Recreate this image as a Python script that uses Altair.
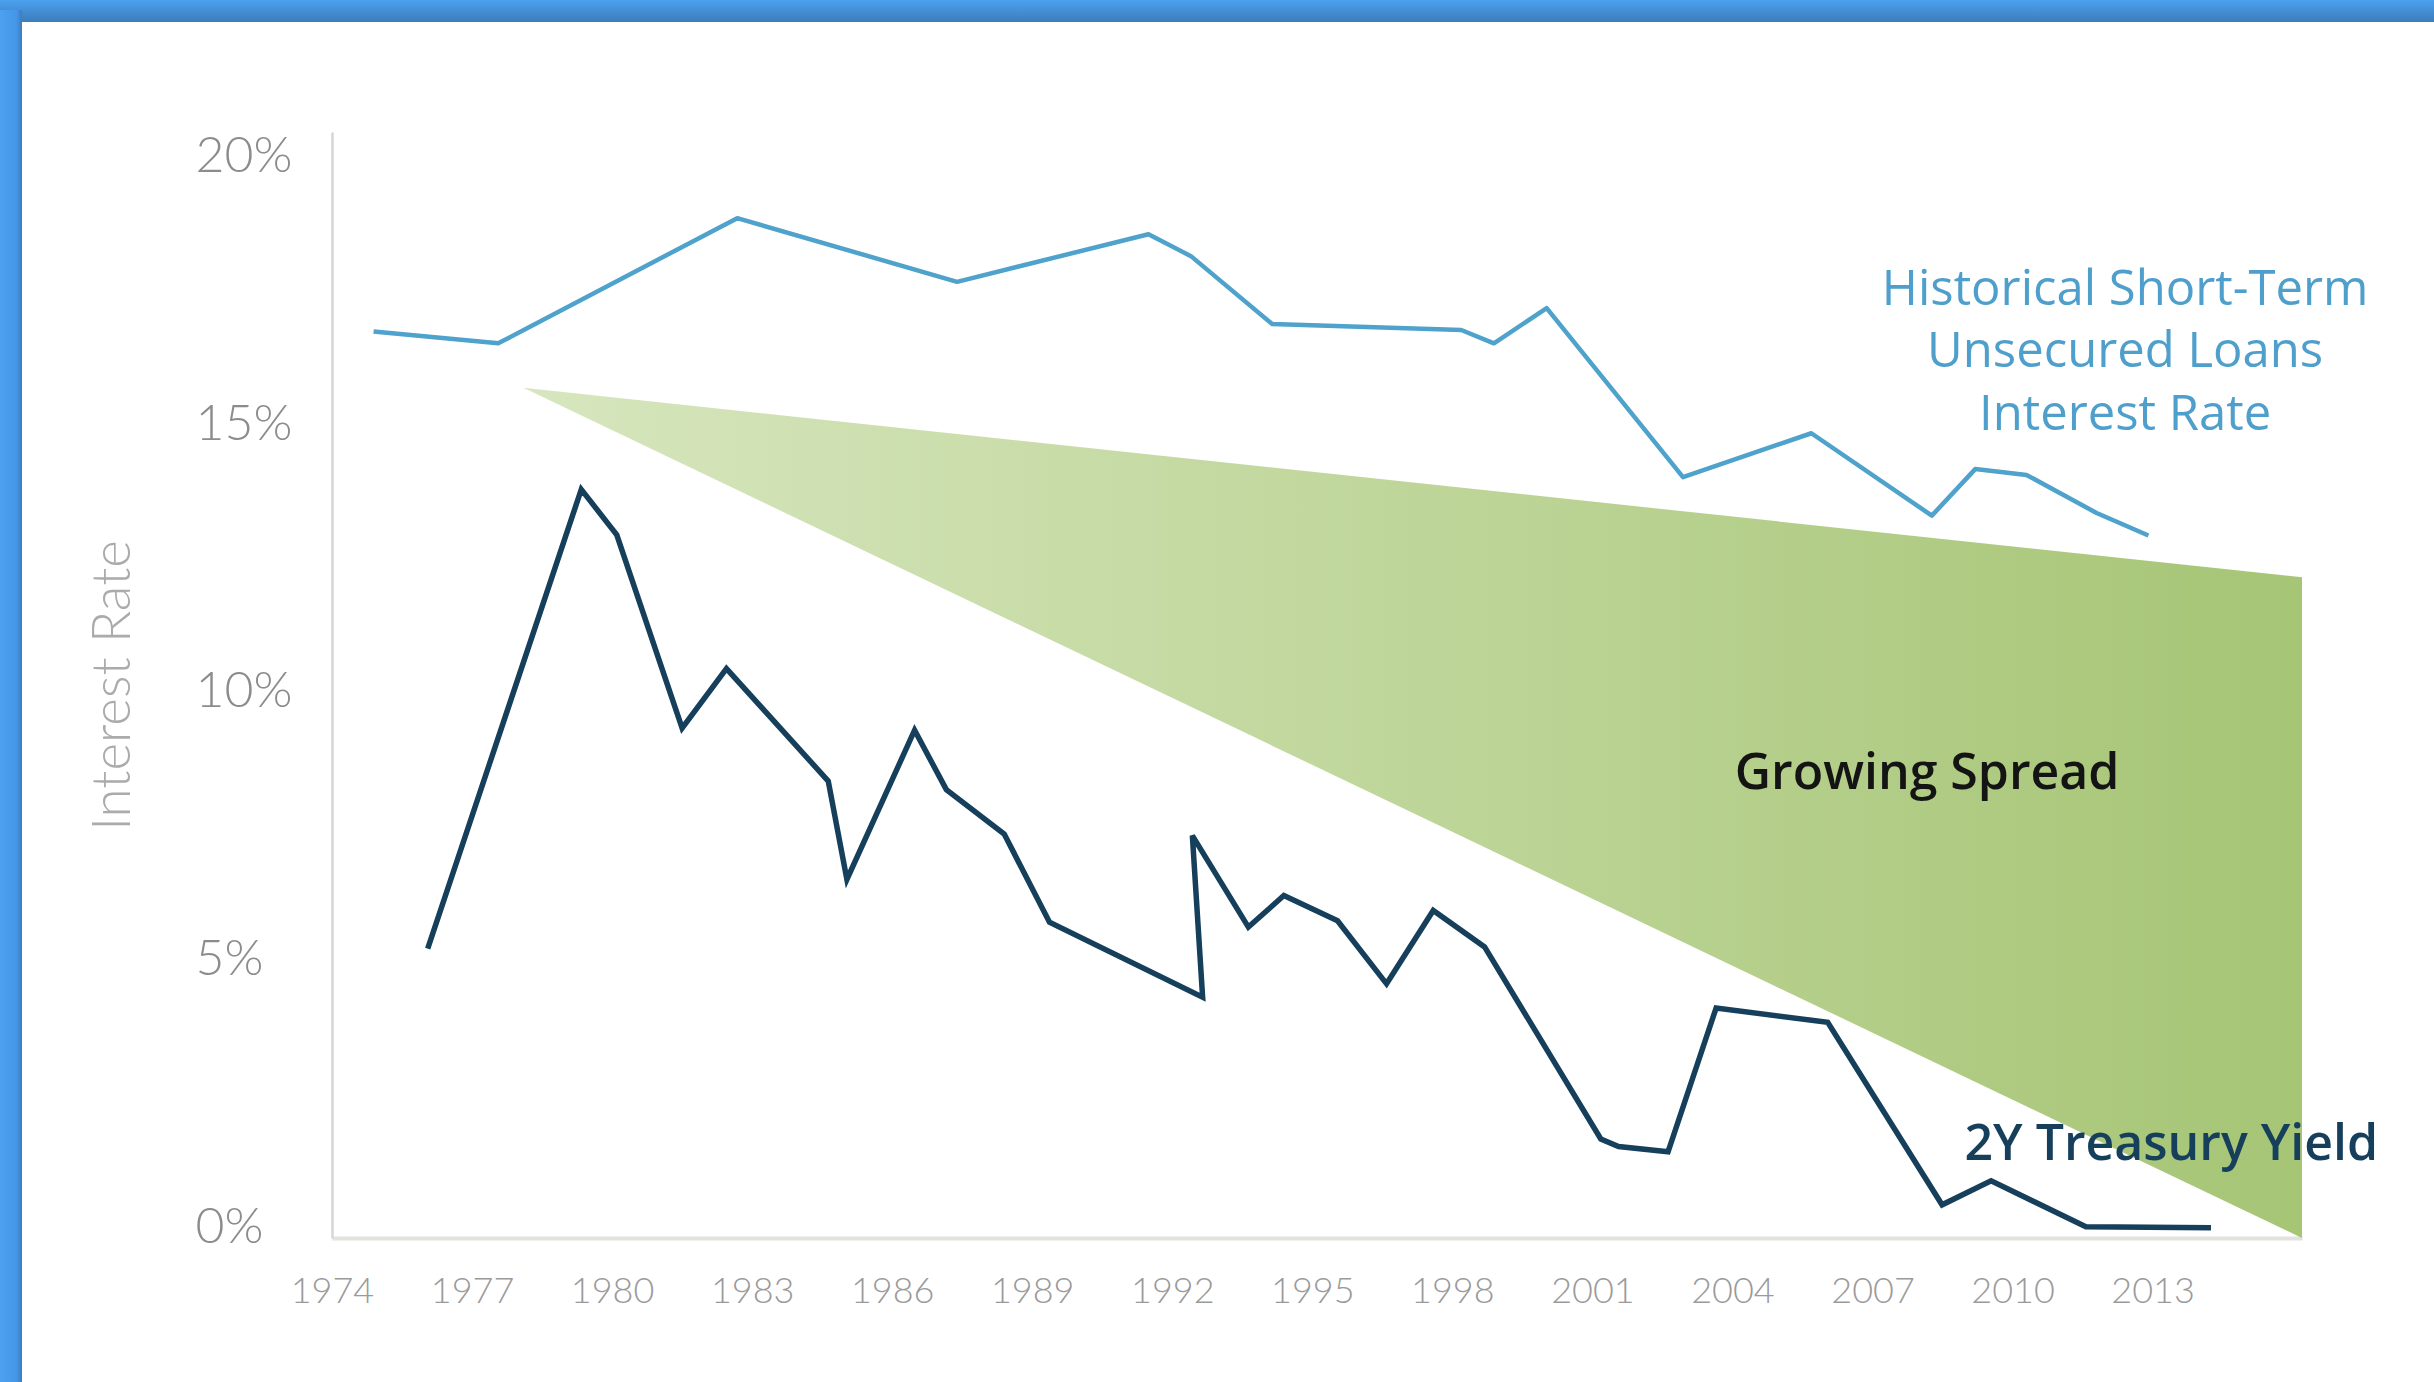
import altair as alt
import pandas as pd

# ---- data ----
loan_years = [1974.89, 1977.56, 1982.68, 1987.39, 1991.49, 1992.40, 1994.14, 1998.19,
              1998.89, 2000.02, 2002.94, 2005.69, 2008.27, 2009.20, 2010.30, 2011.80, 2012.91]
loan_rates = [16.94, 16.72, 19.06, 17.87, 18.76, 18.35, 17.08, 16.97,
              16.72, 17.38, 14.22, 15.04, 13.50, 14.37, 14.26, 13.55, 13.13]

treasury_years = [1976.05, 1979.34, 1980.10, 1981.50, 1982.45, 1984.63, 1985.03, 1986.48,
                  1987.16, 1988.40, 1989.37, 1992.65, 1992.43, 1993.63, 1994.39, 1995.54,
                  1996.59, 1997.59, 1998.69, 2001.18, 2001.56, 2002.62, 2003.65, 2006.04,
                  2008.49, 2009.54, 2011.57, 2014.25]
treasury_rates = [5.41, 13.99, 13.14, 9.53, 10.64, 8.54, 6.70, 9.49,
                  8.38, 7.55, 5.90, 4.50, 7.52, 5.81, 6.40, 5.93,
                  4.75, 6.12, 5.44, 1.85, 1.71, 1.61, 4.30, 4.03,
                  0.62, 1.07, 0.21, 0.19]

spread_years = [1978.1, 2016.2]
spread_upper = [15.89, 12.35]
spread_lower = [15.89, 0.0]

x_tick_years = list(range(1974, 2014, 3))
y_ticks = [0, 5, 10, 15, 20]

loan_label_lines = ["Historical Short-Term", "Unsecured Loans", "Interest Rate"]
loan_label_x = [2012.41, 2012.41, 2012.41]
loan_label_y = [17.43, 16.27, 15.11]

spread_label = ["Growing Spread"]
spread_label_x = [2008.17]
spread_label_y = [8.40]

treasury_label = ["2Y Treasury Yield"]
treasury_label_x = [2013.4]
treasury_label_y = [1.46]

# ---- tables ----
loan_df = pd.DataFrame({"year": loan_years, "rate": loan_rates,
                        "order": list(range(len(loan_years)))})
treasury_df = pd.DataFrame({"year": treasury_years, "rate": treasury_rates,
                            "order": list(range(len(treasury_years)))})
spread_df = pd.DataFrame({"year": spread_years, "rate": spread_upper, "lower": spread_lower})
loan_lbl_df = pd.DataFrame({"t": loan_label_lines, "year": loan_label_x, "rate": loan_label_y})
spread_lbl_df = pd.DataFrame({"t": spread_label, "year": spread_label_x, "rate": spread_label_y})
treas_lbl_df = pd.DataFrame({"t": treasury_label, "year": treasury_label_x, "rate": treasury_label_y})
frame_df = pd.DataFrame({"k": [0]})

W, H = 1970, 1106
PAD_L, PAD_T, PAD_R, PAD_B = 332, 132, 132, 144

x_scale = alt.Scale(domain=[1974, 2016.2], nice=False, zero=False)
y_scale = alt.Scale(domain=[0, 20.67], nice=False, zero=False)

LABEL_FONT = "Lato"

x_axis = alt.Axis(values=x_tick_years, format="d", title=None, grid=False,
                  ticks=False, tickSize=0, domainColor="#e2e2df", domainWidth=4,
                  labelColor="#9a9a9a", labelFont=LABEL_FONT, labelFontWeight=300,
                  labelFontSize=36, labelPadding=53, labelBaseline="middle",
                  labelFlush=False, labelOverlap=False)
y_axis = alt.Axis(values=y_ticks, labelExpr="datum.value + '%'", title="Interest Rate",
                  grid=False, ticks=False, tickSize=0, domainColor="#d6d6d2",
                  domainWidth=2.5, labelColor="#8c8c8c", labelFont=LABEL_FONT,
                  labelFontWeight=300, labelFontSize=50, labelAlign="left",
                  labelBaseline="middle", labelPadding=137, labelOffset=-11,
                  labelFlush=False, labelOverlap=False,
                  titleFont=LABEL_FONT, titleFontWeight=300, titleFontSize=53,
                  titleColor="#ababab", titleAngle=270, titleX=-219, titleY=H / 2,
                  titleAlign="center", titleBaseline="middle")

X = alt.X("year:Q", scale=x_scale, axis=x_axis)
Y = alt.Y("rate:Q", scale=y_scale, axis=y_axis)

frame_top = alt.Chart(frame_df).mark_rect(
    fill=alt.Gradient(gradient="linear",
                      stops=[alt.GradientStop(color="#4ca1f0", offset=0),
                             alt.GradientStop(color="#3c7cbb", offset=1)],
                      x1=0, x2=0, y1=0, y2=1)
).encode(x=alt.value(-PAD_L), x2=alt.value(2434 - PAD_L),
         y=alt.value(-PAD_T), y2=alt.value(-PAD_T + 22))

frame_left = alt.Chart(frame_df).mark_rect(
    fill=alt.Gradient(gradient="linear",
                      stops=[alt.GradientStop(color="#4ca1f0", offset=0),
                             alt.GradientStop(color="#4596e6", offset=0.75),
                             alt.GradientStop(color="#3c7cbb", offset=1)],
                      x1=0, x2=1, y1=0, y2=0)
).encode(x=alt.value(-PAD_L), x2=alt.value(-PAD_L + 22),
         y=alt.value(-PAD_T + 10), y2=alt.value(1382 - PAD_T))

spread = alt.Chart(spread_df).mark_area(
    color=alt.Gradient(gradient="linear",
                       stops=[alt.GradientStop(color="#d7e6be", offset=0),
                              alt.GradientStop(color="#a6c575", offset=1)],
                       x1=0, x2=1, y1=0, y2=0)
).encode(x=X, y=Y, y2="lower:Q")

loan_line = alt.Chart(loan_df).mark_line(color="#4ea2cb", strokeWidth=4.5,
                                         strokeJoin="round").encode(
    x=X, y=Y, order="order:Q")

treasury_line = alt.Chart(treasury_df).mark_line(color="#163f5b", strokeWidth=5.5,
                                                 strokeJoin="miter").encode(
    x=X, y=Y, order="order:Q")

loan_text = alt.Chart(loan_lbl_df).mark_text(
    font="Open Sans", fontSize=49, color="#4e9fcb", align="center", baseline="alphabetic"
).encode(x=X, y=Y, text="t:N")

spread_text = alt.Chart(spread_lbl_df).mark_text(
    font="Open Sans", fontSize=50, fontWeight=600, color="#141414", align="center",
    baseline="alphabetic"
).encode(x=X, y=Y, text="t:N")

treas_text = alt.Chart(treas_lbl_df).mark_text(
    font="Open Sans", fontSize=50, fontWeight=600, color="#163f5b", align="center",
    baseline="alphabetic"
).encode(x=X, y=Y, text="t:N")

chart = alt.layer(
    spread, loan_line, treasury_line, loan_text, spread_text, treas_text,
    frame_top, frame_left
).properties(
    width=W, height=H,
    autosize=alt.AutoSizeParams(type="none"),
    padding={"left": PAD_L, "top": PAD_T, "right": PAD_R, "bottom": PAD_B},
    background="white",
).configure_view(stroke=None)

chart.save("out.html", embed_options={"renderer": "svg", "actions": False})
